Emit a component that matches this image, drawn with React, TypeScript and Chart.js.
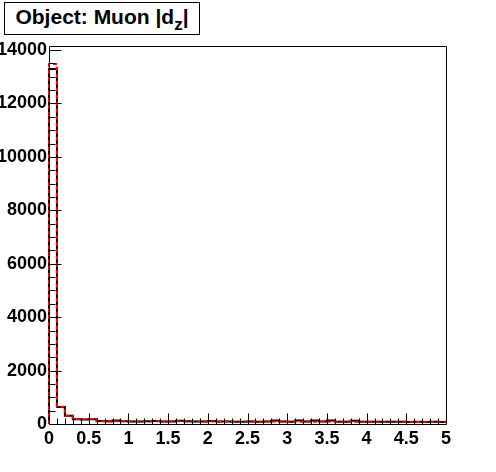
import React, { useEffect, useRef } from "react";
import { Chart, registerables } from "chart.js";

Chart.register(...registerables);

const xMin = 0;
const xMax = 5;
const yMax = 14150;

const blackCounts = [
  13290, 640, 310, 175, 170, 180, 110, 100, 130, 105,
  95, 90, 100, 110, 95, 95, 120, 100, 90, 95,
  110, 90, 90, 85, 85, 95, 85, 90, 130, 90,
  85, 130, 90, 130, 90, 130, 85, 80, 125, 85,
  80, 80, 85, 80, 80, 75, 80, 75, 80, 75,
];

const redCounts = [
  13480, 650, 305, 185, 175, 185, 105, 95, 100, 100,
  90, 95, 95, 100, 90, 105, 100, 90, 95, 90,
  95, 85, 95, 90, 85, 90, 80, 95, 90, 85,
  90, 85, 95, 85, 90, 85, 80, 90, 85, 80,
  85, 80, 75, 85, 80, 80, 75, 80, 75, 80,
];

const yTickValues = [0, 2000, 4000, 6000, 8000, 10000, 12000, 14000];
const yTickLabels = ["0", "2000", "4000", "6000", "8000", "10000", "12000", "14000"];
const yMinorStep = 500;
const xTickValues = [0, 0.5, 1, 1.5, 2, 2.5, 3, 3.5, 4, 4.5, 5];
const xTickLabels = ["0", "0.5", "1", "1.5", "2", "2.5", "3", "3.5", "4", "4.5", "5"];
const xMinorStep = 0.1;

function histPoints(counts: number[]) {
  const n = counts.length;
  const w = (xMax - xMin) / n;
  const pts: { x: number; y: number }[] = [{ x: xMin, y: 0 }, { x: xMin, y: counts[0] }];
  for (let i = 1; i < n; i++) pts.push({ x: xMin + i * w, y: counts[i] });
  pts.push({ x: xMax, y: counts[n - 1] });
  return pts;
}

const FONT = "'Liberation Sans', Arial, Helvetica, sans-serif";

const frameTicksPlugin = {
  id: "frameTicks",
  afterDatasetsDraw(chart: any) {
    const { ctx, chartArea } = chart;
    const xs = chart.scales.x;
    const ys = chart.scales.y;
    const { left, right, top, bottom } = chartArea;
    ctx.save();
    ctx.strokeStyle = "#000";
    ctx.lineWidth = 1;
    ctx.beginPath();
    const L = Math.round(left) + 0.5;
    const R = Math.round(right) + 0.5;
    const T = Math.round(top) + 0.5;
    const B = Math.round(bottom) + 0.5;
    ctx.moveTo(L, T);
    ctx.lineTo(R, T);
    ctx.lineTo(R, B);
    ctx.lineTo(L, B);
    ctx.closePath();
    const yMaxTick = yTickValues[yTickValues.length - 1];
    for (let v = 0; v <= yMaxTick + 1e-6; v += yMinorStep) {
      const isMajor = yTickValues.some((t) => Math.abs(t - v) < 1e-6);
      const py = Math.round(ys.getPixelForValue(v)) + 0.5;
      ctx.moveTo(L, py);
      ctx.lineTo(L + (isMajor ? 12 : 6), py);
    }
    const nMinor = Math.round((xMax - xMin) / xMinorStep);
    for (let i = 0; i <= nMinor; i++) {
      const v = xMin + i * xMinorStep;
      const isMajor = xTickValues.some((t) => Math.abs(t - v) < 1e-6);
      const px = Math.round(xs.getPixelForValue(v)) + 0.5;
      ctx.moveTo(px, B);
      ctx.lineTo(px, B - (isMajor ? 11 : 6));
    }
    ctx.stroke();
    ctx.restore();
  },
};

export default function App() {
  const canvasRef = useRef<HTMLCanvasElement | null>(null);

  useEffect(() => {
    document.body.style.margin = "0";
    const canvas = canvasRef.current;
    if (!canvas) return;
    const chart = new Chart(canvas, {
      type: "line",
      data: {
        datasets: [
          {
            label: "black",
            data: histPoints(blackCounts),
            borderColor: "#000000",
            borderWidth: 2,
            stepped: "before",
            pointRadius: 0,
            fill: false,
            clip: false as any,
            order: 2,
          },
          {
            label: "red",
            data: histPoints(redCounts),
            borderColor: "#ff0000",
            borderWidth: 2,
            borderDash: [4, 3],
            stepped: "before",
            pointRadius: 0,
            fill: false,
            clip: false as any,
            order: 1,
          },
        ],
      },
      options: {
        animation: false,
        responsive: false,
        maintainAspectRatio: false,
        devicePixelRatio: 1,
        layout: { padding: { top: 46, right: 50, left: 0, bottom: 0 } },
        plugins: {
          legend: { display: false },
          tooltip: { enabled: false },
          title: { display: false },
        },
        scales: {
          x: {
            type: "linear",
            min: xMin,
            max: xMax,
            grid: { display: false, drawTicks: false },
            border: { display: false },
            afterFit: (s: any) => {
              s.height = 48;
            },
            afterBuildTicks: (s: any) => {
              s.ticks = xTickValues.map((v) => ({ value: v }));
            },
            ticks: {
              padding: 4,
              maxRotation: 0,
              autoSkip: false,
              color: "#000",
              font: { family: FONT, size: 18, weight: "bold" },
              callback: (v: any) => {
                const i = xTickValues.findIndex((t) => Math.abs(t - Number(v)) < 1e-6);
                return i >= 0 ? xTickLabels[i] : "";
              },
            },
          },
          y: {
            type: "linear",
            min: 0,
            max: yMax,
            grid: { display: false, drawTicks: false },
            border: { display: false },
            afterFit: (s: any) => {
              s.width = 49;
            },
            afterBuildTicks: (s: any) => {
              s.ticks = yTickValues.map((v) => ({ value: v }));
            },
            ticks: {
              padding: 2,
              autoSkip: false,
              color: "#000",
              font: { family: FONT, size: 18, weight: "bold" },
              callback: (v: any) => {
                const i = yTickValues.findIndex((t) => Math.abs(t - Number(v)) < 1e-6);
                return i >= 0 ? yTickLabels[i] : "";
              },
            },
          },
        },
      },
      plugins: [frameTicksPlugin],
    });
    return () => chart.destroy();
  }, []);

  return (
    <div style={{ position: "relative", width: 496, height: 472, background: "#fff" }}>
      <canvas ref={canvasRef} width={496} height={472} style={{ display: "block" }} />
      <div
        style={{
          position: "absolute",
          left: 4,
          top: 2,
          width: 196,
          height: 33,
          boxSizing: "border-box",
          border: "1px solid #000",
          background: "#fff",
          fontFamily: FONT,
          fontWeight: "bold",
          fontSize: 21,
          lineHeight: "28px",
          textAlign: "center",
          whiteSpace: "nowrap",
        }}
      >
        Object: Muon |d
        <span style={{ fontSize: 17, position: "relative", top: 6 }}>z</span>|
      </div>
    </div>
  );
}
